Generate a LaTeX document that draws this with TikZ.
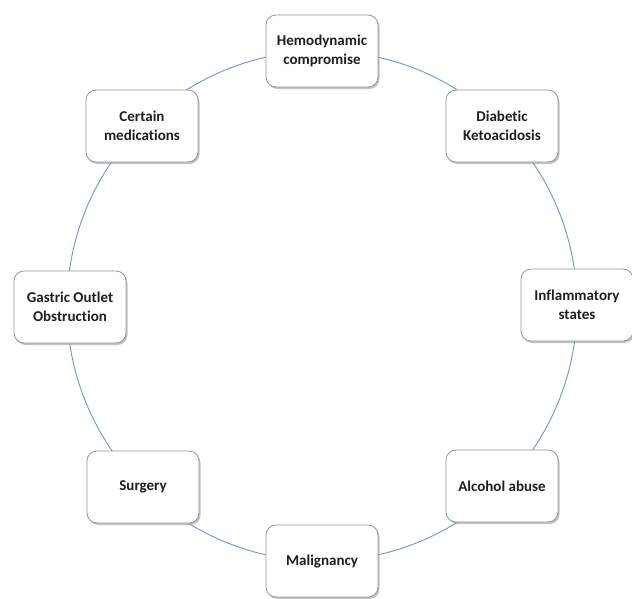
\documentclass[tikz,border=0pt]{standalone}
\usepackage{fontspec}
\setmainfont[Ligatures={NoCommon,TeX}]{Carlito}
\usetikzlibrary{shadows}
\definecolor{ringblue}{RGB}{110,150,200}
\definecolor{boxedge}{RGB}{150,150,150}
\definecolor{txt}{RGB}{30,30,30}
\begin{document}
\begin{tikzpicture}[x=1pt,y=-1pt,
  cbox/.style={draw=boxedge, line width=0.8pt, fill=white, rounded corners=10pt,
    minimum width=112pt, minimum height=72pt, inner sep=0pt, align=center,
    text=txt, font=\fontsize{15}{18.5}\selectfont\bfseries,
    drop shadow={shadow xshift=1.5pt, shadow yshift=-2pt, fill=black!40, opacity=0.6}},
  ring/.style={draw=ringblue, line width=0.9pt}]
\useasboundingbox (0,0) rectangle (632,598);
\coordinate (c) at (322,306);
\draw[ring] (c) circle[radius=255pt];
\node[cbox] (hemo) at (322,51) {Hemodynamic\\compromise};
\node[cbox] (dka) at (502,126) {Diabetic\\Ketoacidosis};
\node[cbox] (infl) at (577,305) {Inflammatory\\states};
\node[cbox] (alc) at (502,486) {Alcohol abuse};
\node[cbox] (mal) at (322,561) {Malignancy};
\node[cbox] (surg) at (143,487) {Surgery};
\node[cbox] (goo) at (70,307) {Gastric Outlet\\Obstruction};
\node[cbox] (med) at (142,126) {Certain\\medications};
\end{tikzpicture}
\end{document}
